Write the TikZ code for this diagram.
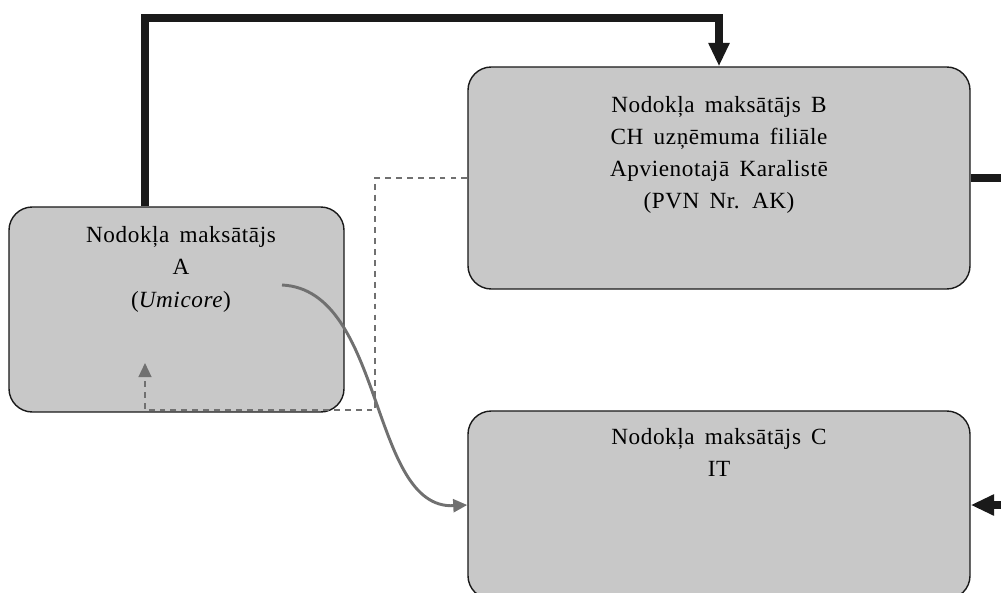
\documentclass[tikz,border=0pt]{standalone}
\usepackage{fontspec}
\setmainfont{Liberation Serif}[LetterSpace=2.5,WordSpace=1.6]
\usetikzlibrary{arrows.meta}
\definecolor{boxgray}{HTML}{C8C8C8}
\definecolor{linegray}{HTML}{707070}
\definecolor{inkblack}{HTML}{1A1A1A}

\begin{document}
\begin{tikzpicture}[
    x=0.03cm, y=-0.03cm,
    box/.style={draw=inkblack, line width=1.2pt, fill=boxgray,
        rounded corners=0.7cm, inner sep=0pt},
    txt/.style={anchor=north, align=center, inner sep=0pt,
        font=\fontsize{19.8}{27.5}\selectfont},
    heavy/.style={line width=6.3pt, draw=inkblack},
    heavytip/.style={-{Triangle[length=20pt,width=17pt]}},
    feedback/.style={line width=1.5pt, draw=linegray,
        dash pattern=on 5pt off 4.3pt,
        -{Triangle[length=12pt,width=11pt,fill=linegray]}},
    flow/.style={line width=2.5pt, draw=linegray,
        -{Triangle[length=12pt,width=11pt,fill=linegray]}}
]

\useasboundingbox (0,0) rectangle (1001,593);

% Maksataji
\node[box, minimum width=10.05cm, minimum height=6.15cm] (a) at (176.5,309.5) {};
\node[box, minimum width=15.06cm, minimum height=6.66cm] (b) at (719,178) {};
\node[box, minimum width=15.06cm, minimum height=5.64cm] (c) at (719,505) {};

\node[txt] (aText) at ([xshift=0.135cm, yshift=-0.6cm]a.north)
    {Nodokļa maksātājs\\A\\(\textit{Umicore})};
\node[txt] (bText) at ([yshift=-0.89cm]b.north)
    {Nodokļa maksātājs B\\CH uzņēmuma filiāle\\Apvienotajā Karalistē\\(PVN Nr. AK)};
\node[txt] (cText) at ([yshift=-0.54cm]c.north)
    {Nodokļa maksātājs C\\IT};

% Punkti
\coordinate (topBend) at (145,18);
\coordinate (bOut) at (1012,178);
\coordinate (cIn) at (1012,505);
\coordinate (dashTurn) at (375,410);
\coordinate (dashEnd) at (145,363);
\coordinate (curveStart) at (282,285);

% A -> B
\draw[heavy, heavytip] (a.north -| topBend) -- (topBend) -| (b.north);

% B -> arpus
\draw[heavy] (b.east) -- (bOut);

% arpus -> C
\draw[heavy, heavytip] (cIn) -- (c.east);

% B -> A (svitrota)
\draw[feedback] (b.west) -| (dashTurn) -| (dashEnd);

% A -> C
\draw[flow] (curveStart) .. controls +(103,5) and +(-98,5) .. (c.west);

\end{tikzpicture}
\end{document}
